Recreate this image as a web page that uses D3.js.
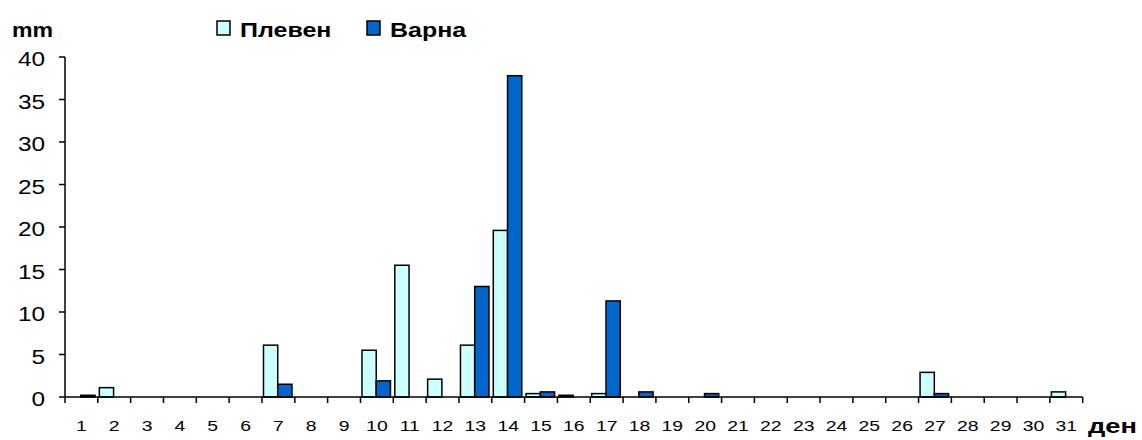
<!DOCTYPE html>
<html>
<head>
<meta charset="utf-8">
<script src="https://cdn.jsdelivr.net/npm/d3@7"></script>
<style>
  html, body { margin: 0; padding: 0; background: #fff; }
  svg { display: block; font-family: "Liberation Sans", Arial, sans-serif; }
</style>
</head>
<body>
<svg id="chart" width="1142" height="440"></svg>
<script>
// Daily precipitation (mm) for two stations over one month
const days = d3.range(1, 32).map(String);
const seriesNames = ["Плевен", "Варна"];
const pleven = [0, 1.1, 0, 0, 0, 0, 6.1, 0, 0, 5.5, 15.5, 2.1, 6.1, 19.6, 0.4, 0.2, 0.4, 0, 0, 0, 0, 0, 0, 0, 0, 0, 2.9, 0, 0, 0, 0.6];
const varna  = [0.2, 0, 0, 0, 0, 0, 1.5, 0, 0, 1.9, 0, 0, 13.0, 37.8, 0.6, 0, 11.3, 0.6, 0, 0.4, 0, 0, 0, 0, 0, 0, 0.4, 0, 0, 0, 0];
const yTicks = [0, 5, 10, 15, 20, 25, 30, 35, 40];
const colors = ["#CCFFFF", "#0066CC"];

const svg = d3.select("#chart");
const plotLeft = 65, plotRight = 1082.7, plotTop = 57, plotBottom = 397;
const stretch = 1.25; // text is set slightly wide

const x = d3.scaleBand().domain(days).range([plotLeft, plotRight]).padding(0);
const bw = x.bandwidth();
const xInner = d3.scaleBand().domain(seriesNames).range([0.046 * bw, 0.914 * bw]).padding(0);
const y = d3.scaleLinear().domain([0, 40]).range([plotBottom, plotTop]);

const rows = days.map((d, i) => ({ day: d, values: [pleven[i], varna[i]] }));

// Bars
const groups = svg.append("g").selectAll("g")
  .data(rows).join("g")
  .attr("transform", d => `translate(${x(d.day)},0)`);

groups.selectAll("rect")
  .data(d => d.values.map((v, k) => ({ name: seriesNames[k], v, k })).filter(e => e.v > 0))
  .join("rect")
  .attr("x", e => xInner(e.name))
  .attr("width", xInner.bandwidth())
  .attr("y", e => y(e.v))
  .attr("height", e => plotBottom - y(e.v))
  .attr("fill", e => colors[e.k])
  .attr("stroke", "#000")
  .attr("stroke-width", 1.5);

// Y axis
const yAxis = svg.append("g");
yAxis.append("line")
  .attr("x1", plotLeft).attr("x2", plotLeft)
  .attr("y1", plotTop).attr("y2", plotBottom)
  .attr("stroke", "#000").attr("stroke-width", 1.5);
yAxis.selectAll("line.tick")
  .data(yTicks).join("line").attr("class", "tick")
  .attr("x1", plotLeft - 6).attr("x2", plotLeft)
  .attr("y1", d => y(d)).attr("y2", d => y(d))
  .attr("stroke", "#000").attr("stroke-width", 1.5);
yAxis.selectAll("text")
  .data(yTicks).join("text")
  .attr("transform", d => `translate(45,${y(d) + 9}) scale(${stretch},1)`)
  .attr("text-anchor", "end")
  .attr("font-size", 19.5)
  .text(d => d);

// X axis
const xAxis = svg.append("g");
xAxis.append("line")
  .attr("x1", plotLeft).attr("x2", plotRight)
  .attr("y1", plotBottom).attr("y2", plotBottom)
  .attr("stroke", "#000").attr("stroke-width", 1.5);
const bounds = days.map(d => x(d)).concat([plotRight]);
xAxis.selectAll("line.tick")
  .data(bounds).join("line").attr("class", "tick")
  .attr("x1", d => d).attr("x2", d => d)
  .attr("y1", plotBottom).attr("y2", plotBottom + 6)
  .attr("stroke", "#000").attr("stroke-width", 1.5);
xAxis.selectAll("text")
  .data(days).join("text")
  .attr("transform", d => `translate(${x(d) + bw / 2},431) scale(${stretch},1)`)
  .attr("text-anchor", "middle")
  .attr("font-size", 15.5)
  .text(d => d);

// Axis titles
svg.append("text")
  .attr("transform", `translate(12,37) scale(1.1,1)`)
  .attr("font-size", 21).attr("font-weight", "bold").text("mm");
svg.append("text")
  .attr("transform", `translate(1088,433) scale(1.3,1)`)
  .attr("font-size", 21).attr("font-weight", "bold").text("ден");

// Legend
const legendX = [217, 367];
const legend = svg.append("g").selectAll("g")
  .data(seriesNames).join("g")
  .attr("transform", (d, i) => `translate(${legendX[i]},21)`);
legend.append("rect")
  .attr("width", 13).attr("height", 14)
  .attr("fill", (d, i) => colors[i])
  .attr("stroke", "#000").attr("stroke-width", 1.5);
legend.append("text")
  .attr("transform", `translate(23,15.5) scale(${stretch},1)`)
  .attr("font-size", 20).attr("font-weight", "bold")
  .text(d => d);
</script>
</body>
</html>
